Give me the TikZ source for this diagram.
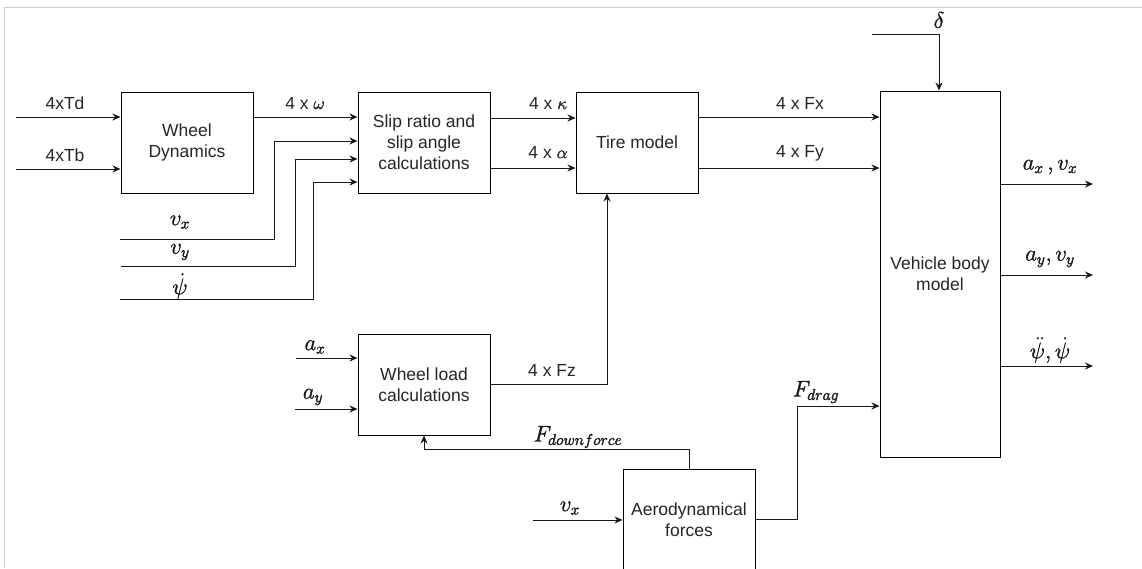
\documentclass[tikz,border=0pt]{standalone}
\usepackage{graphicx}
\usepackage{fontspec}
\setmainfont{Liberation Sans}
\usetikzlibrary{arrows.meta}
\newcommand{\mth}[1]{\scalebox{1.09}{\special{pdf:literal 2 Tr 0.3 w}$#1$\special{pdf:literal 0 Tr 1 w}}}
\newcommand{\gk}[1]{\special{pdf:literal 2 Tr 0.35 w}$#1$\special{pdf:literal 0 Tr 1 w}}
\begin{document}
\begin{tikzpicture}[x=1pt,y=-1pt,
  blk/.style={draw=black,line width=1pt,fill=white,align=center,inner sep=0pt,
    font=\fontsize{17.5}{21}\selectfont,text=black!85},
  arr/.style={line width=1pt,draw=black!90,-{Stealth[length=8pt,width=7pt]}},
  lbl/.style={inner sep=0pt,font=\fontsize{17.5}{21}\selectfont,text=black!85},
  mlbl/.style={inner sep=0pt,font=\fontsize{20.74}{24}\selectfont,text=black!90}]
\useasboundingbox (0,0) rectangle (1142,568);
\fill[white] (0,0) rectangle (1142,568);
\draw[black!20,line width=1pt] (4,568) -- (4,7) -- (1142,7);

% blocks
\node[blk,minimum width=132pt,minimum height=101pt] (wd) at (187,142.5) {Wheel\\Dynamics};
\node[blk,minimum width=132pt,minimum height=101pt] (slip) at (424,142.5) {Slip ratio and\\slip angle\\calculations};
\node[blk,minimum width=122pt,minimum height=101pt] (tire) at (637,142.5) {Tire model};
\node[blk,minimum width=120pt,minimum height=366pt] (body) at (940,274) {Vehicle body\\model};
\node[blk,minimum width=132pt,minimum height=101pt] (wl) at (424,384.5) {Wheel load\\calculations};
\node[blk,minimum width=132pt,minimum height=101pt] (aero) at (689,519.5) {Aerodynamical\\forces};

% free ends
\coordinate (tdin) at (16,117);
\coordinate (tbin) at (16,169);
\coordinate (vxin) at (120,239);
\coordinate (vyin) at (121,266);
\coordinate (psin) at (120,299);
\coordinate (axin) at (296,358);
\coordinate (ayin) at (295,409);
\coordinate (vxain) at (533,520);
\coordinate (delin) at (872,34);
\coordinate (axout) at (1093,184);
\coordinate (ayout) at (1093,275);
\coordinate (psout) at (1093,366);

% connectors
\draw[arr] (tdin) -- (tdin -| wd.west);
\draw[arr] (tbin) -- (tbin -| wd.west);
\draw[arr] (wd.east |- tdin) -- (slip.west |- tdin);
\draw[arr] (vxin) -- (274,239) -- (274,141) -- (slip.west |- 0,141);
\draw[arr] (vyin) -- (295,266) -- (295,159) -- (slip.west |- 0,159);
\draw[arr] (psin) -- (313,299) -- (313,182) -- (slip.west |- 0,182);
\draw[arr] (slip.east |- 0,118) -- (tire.west |- 0,118);
\draw[arr] (slip.east |- 0,168) -- (tire.west |- 0,168);
\draw[arr] (tire.east |- 0,117) -- (body.west |- 0,117);
\draw[arr] (tire.east |- 0,168) -- (body.west |- 0,168);
\draw[arr] (delin) -- (939,34) -- (939,0 |- body.north);
\draw[arr] (body.east |- axout) -- (axout);
\draw[arr] (body.east |- ayout) -- (ayout);
\draw[arr] (body.east |- psout) -- (psout);
\draw[arr] (axin) -- (axin -| wl.west);
\draw[arr] (ayin) -- (ayin -| wl.west);
\draw[arr] (wl.east |- 0,384) -- (607,384) -- (607,0 |- tire.south);
\draw[arr] (689,0 |- aero.north) -- (689,449) -- (424,449) -- (424,0 |- wl.south);
\draw[arr] (vxain) -- (vxain -| aero.west);
\draw[arr] (aero.east |- 0,519) -- (797,519) -- (797,406) -- (body.west |- 0,406);

% labels
\node[lbl] (l1) at (65,103) {4xTd};
\node[lbl] (l2) at (65,155) {4xTb};
\node[lbl] (l3) at (305,103) {4 x \gk{\omega}};
\node[mlbl] (l4) at (180,222) {\mth{v_x}};
\node[mlbl] (l5) at (180,252) {\mth{v_y}};
\node[mlbl] (l6) at (180,286) {\mth{\dot\psi}};
\node[lbl] (l7) at (548,103) {4 x \gk{\kappa}};
\node[lbl] (l8) at (548,152) {4 x \gk{\alpha}};
\node[lbl] (l9) at (800,103) {4 x Fx};
\node[lbl] (l10) at (800,153) {4 x Fy};
\node[mlbl] (l11) at (939,20) {\mth{\delta}};
\node[mlbl] (l12) at (1050,167) {\mth{a_x\,,v_x}};
\node[mlbl] (l13) at (1050,259) {\mth{a_y,v_y}};
\node[mlbl] (l14) at (1050,350) {\mth{\ddot\psi,\dot\psi}};
\node[mlbl] (l15) at (315,347) {\mth{a_x}};
\node[mlbl] (l16) at (313,397) {\mth{a_y}};
\node[lbl] (l17) at (552,370) {4 x Fz};
\node[mlbl] (l18) at (578,437) {\mth{F_{downforce}}};
\node[mlbl] (l19) at (570,508) {\mth{v_x}};
\node[mlbl] (l20) at (816,392) {\mth{F_{drag}}};
\end{tikzpicture}
\end{document}
